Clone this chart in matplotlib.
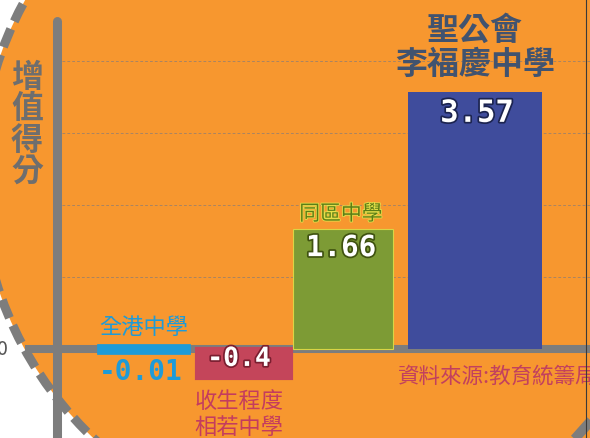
import matplotlib
matplotlib.use('Agg')
import matplotlib.pyplot as plt
import matplotlib.patheffects as pe
from matplotlib.patches import Ellipse

plt.rcParams['font.family'] = ['Noto Sans CJK TC', 'DejaVu Sans']
plt.rcParams['lines.scale_dashes'] = False

categories = ['全港中學', '收生程度\n相若中學', '同區中學', '聖公會\n李福慶中學']
scores = [-0.01, -0.4, 1.66, 3.57]
score_labels = ['-0.01', '-0.4', '1.66', '3.57']
grid_ticks = [1, 2, 3, 4]
y_title = '增值得分'
source = '資料來源:教育統籌局'

bar_colors = ['#1E9BD8', '#C4455A', '#7D9B35', '#3F4C9C']
label_colors = ['#1E9BD8', '#C43C5E', '#5C7D16', '#41536F']
stroke_colors = ['#1E9BD8', '#7A1E30', '#3F5210', '#1C2450']

# page layout (x in pixels, y in score units)
centers = [144, 244, 343, 475]
widths = [84, 94, 100, 134]
px = 72.0

orange = '#F7972F'
gray = '#7D7D7D'

fig = plt.figure(figsize=(5.9, 4.39), dpi=100)
fig.patch.set_facecolor('white')
ax = fig.add_axes([0, 0, 1, 1])
ax.set_xlim(0, 590)
ax.set_ylim(-89 / px, 350 / px)
ax.axis('off')

# big orange disc with dashed rim
disc_c = (342, (350 - 176) / px)
ax.add_patch(Ellipse(disc_c, 724, 724 / px, fc=orange, ec='none', zorder=0))
ax.add_patch(Ellipse(disc_c, 724, 724 / px, fill=False, ec=gray,
                     lw=6.5, ls=(0, (14, 6)), zorder=1))
ax.plot([574, 592], [-1.26, -0.98], color=gray, lw=7, solid_capstyle='butt', zorder=1)

ax.hlines(grid_ticks, 62, 590, colors='#A98462', lw=0.7, linestyles=(0, (2, 1.5)), zorder=1)

ax.plot([57, 57], [-1.5, 4.56], color=gray, lw=6.5, solid_capstyle='round', zorder=2)
ax.plot([25, 595], [0, 0], color=gray, lw=5.8, solid_capstyle='butt', zorder=2)

bars = ax.bar(centers, scores, width=widths, color=bar_colors, zorder=3)
bars[0].set_edgecolor(bar_colors[0])
bars[0].set_linewidth(7)
bars[1].set_edgecolor(bar_colors[1])
bars[1].set_linewidth(3)
bars[2].set_edgecolor('#D9D545')
bars[2].set_linewidth(0.8)

num_font = ['DejaVu Sans Mono']

# 全港中學
ax.text(centers[0], scores[0] + 0.32, categories[0], color=label_colors[0],
        fontsize=16, ha='center', va='center', zorder=4)
ax.text(centers[0] - 3, scores[0] - 0.41, score_labels[0], color=label_colors[0],
        fontsize=20, fontweight='bold', family=num_font, ha='center', va='baseline', zorder=4)

# 收生程度相若中學
ax.text(centers[1] - 5, scores[1] + 0.165, score_labels[1], color='white',
        fontsize=19, fontweight='bold', family=num_font, ha='center', va='baseline', zorder=4,
        path_effects=[pe.withStroke(linewidth=2.5, foreground=stroke_colors[1])])
ax.text(centers[1] - 5, scores[1] - 0.49, categories[1], color=label_colors[1],
        fontsize=16, ha='center', va='center', linespacing=1.15, zorder=4)

# 同區中學
ax.text(centers[2] - 2, scores[2] + 0.215, categories[2], color=label_colors[2],
        fontsize=15, ha='center', va='center', zorder=4,
        path_effects=[pe.withStroke(linewidth=1.2, foreground='#E4E04A')])
ax.text(centers[2] - 2, scores[2] - 0.37, score_labels[2], color='white',
        fontsize=21, fontweight='bold', family=num_font, ha='center', va='baseline', zorder=4,
        path_effects=[pe.withStroke(linewidth=2.5, foreground=stroke_colors[2])])

# 聖公會李福慶中學
ax.text(centers[3], scores[3] + 0.63, categories[3], color=label_colors[3],
        fontsize=23, fontweight='bold', ha='center', va='center', linespacing=1.08, zorder=4)
ax.text(centers[3] + 2, scores[3] - 0.415, score_labels[3], color='white',
        fontsize=22, fontweight='bold', family=num_font, ha='center', va='baseline', zorder=4,
        path_effects=[pe.withStroke(linewidth=2.5, foreground=stroke_colors[3])])

ax.text(27, 3.125, '\n'.join(y_title), color='#6E6E6E', fontsize=23, fontweight='bold',
        ha='center', va='center', linespacing=0.97, zorder=4)
ax.text(2, 0, '0', color='#555555', fontsize=14, ha='center', va='center', zorder=4)
ax.text(398, -0.375, source, color='#C2405E', fontsize=15.5, ha='left', va='center', zorder=4)

ax.axvline(586, color='#3A3A3A', lw=0.8, zorder=5)

fig.savefig('out.png', dpi=100, facecolor=fig.get_facecolor())
